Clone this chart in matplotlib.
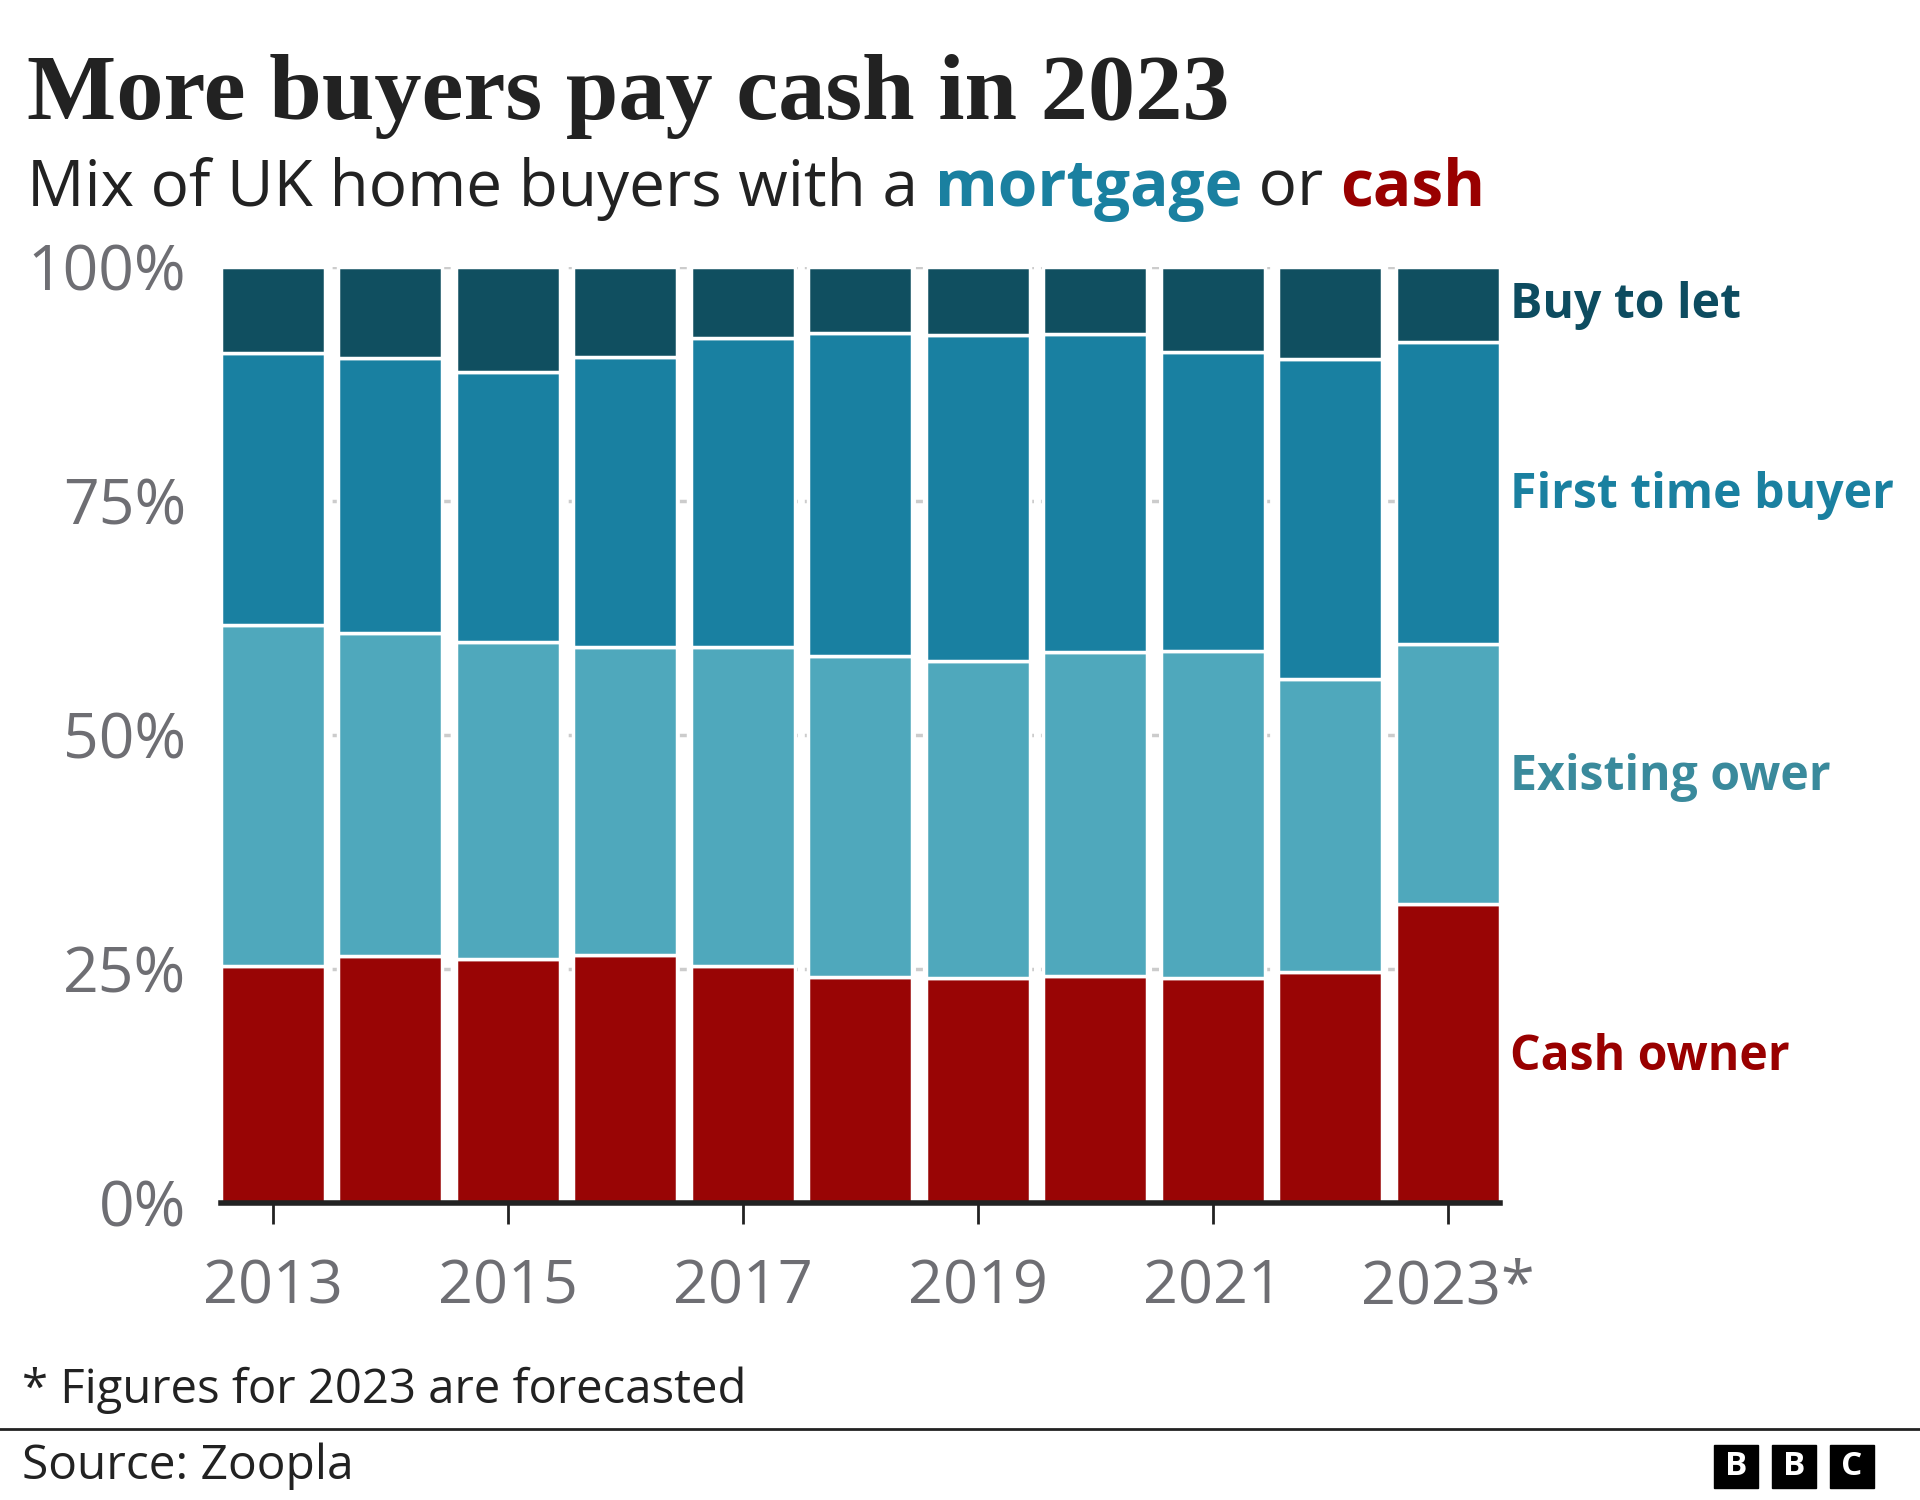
import matplotlib
matplotlib.use("Agg")
import matplotlib.pyplot as plt
from matplotlib.patches import Rectangle

# data (percent of buyers)
years = [2013, 2014, 2015, 2016, 2017, 2018, 2019, 2020, 2021, 2022, 2023]
cash_owner = [25.3, 26.4, 26.1, 26.5, 25.3, 24.1, 24.0, 24.3, 24.0, 24.7, 31.9]
existing_owner = [36.5, 34.5, 33.8, 32.9, 34.1, 34.3, 33.9, 34.6, 35.0, 31.3, 27.8]
first_time_buyer = [29.0, 29.4, 28.9, 31.0, 33.0, 34.5, 34.8, 33.9, 31.9, 34.2, 32.3]
buy_to_let = [9.2, 9.7, 11.2, 9.6, 7.6, 7.1, 7.3, 7.2, 9.1, 9.8, 8.0]
tick_years = [2013, 2015, 2017, 2019, 2021, 2023]
tick_labels = ["2013", "2015", "2017", "2019", "2021", "2023*"]

# colours
c_cash = "#990505"
c_exist = "#4fa8bc"
c_ftb = "#1980a1"
c_btl = "#104f60"
grey = "#6e6e73"

plt.rcParams["font.family"] = ["Open Sans", "DejaVu Sans"]

fig = plt.figure(figsize=(19.2, 15), dpi=100)
ax = fig.add_axes([0.1151, 0.198, 0.6661, 0.624])

w = 0.885
series = [(cash_owner, c_cash), (existing_owner, c_exist),
          (first_time_buyer, c_ftb), (buy_to_let, c_btl)]
bottom = [0.0] * len(years)
for vals, col in series:
    ax.bar(years, vals, width=w, bottom=bottom, color=col,
           edgecolor="white", linewidth=2.5, zorder=3)
    bottom = [b + v for b, v in zip(bottom, vals)]

ax.set_xlim(years[0] - w / 2, years[-1] + w / 2)
ax.set_ylim(0, 100)
ax.set_yticks([0, 25, 50, 75, 100])
ax.set_yticklabels(["0%", "25%", "50%", "75%", "100%"])
ax.set_xticks(tick_years)
ax.set_xticklabels(tick_labels)
ax.yaxis.grid(True, color="#cccccc", linewidth=2.5, linestyle=(0, (2, 2)), zorder=0)
for s in ["top", "right", "left"]:
    ax.spines[s].set_visible(False)
ax.spines["bottom"].set_linewidth(4)
ax.spines["bottom"].set_color("#222222")
ax.spines["bottom"].set_zorder(4)
ax.tick_params(axis="y", length=0, pad=25, labelsize=45, labelcolor=grey)
ax.tick_params(axis="x", length=15, width=2, color="#222222", pad=24,
               labelsize=44, labelcolor=grey)

# labels on the right of the last bar
lab_x = 1510 / 1920
for txt, ypx, col in [("Buy to let", 306, "#0d4c60"),
                      ("First time buyer", 496, "#1a80a0"),
                      ("Existing ower", 777, "#3a8a9c"),
                      ("Cash owner", 1057, "#990000")]:
    fig.text(lab_x, 1 - ypx / 1500, txt, color=col, fontsize=34.7,
             fontweight="bold", va="center", ha="left")

# title and subtitle
fig.text(27 / 1920, 1 - 119 / 1500, "More buyers pay cash in 2023",
         family=["Liberation Serif", "DejaVu Serif"], fontweight="bold",
         fontsize=68, color="#222222", va="baseline")

renderer = fig.canvas.get_renderer()
x = 27
parts = [("Mix of UK home buyers with a ", "#222222", "normal"),
         ("mortgage", "#1a80a0", "bold"),
         (" or ", "#222222", "normal"),
         ("cash", "#990000", "bold")]
for txt, col, wt in parts:
    t = fig.text(x / 1920, 1 - 206 / 1500, txt, fontsize=46, color=col,
                 fontweight=wt, va="baseline")
    x = t.get_window_extent(renderer).x1

# footnote, rule, source
fig.text(22 / 1920, 1 - 1390 / 1500, "* Figures for 2023 are forecasted",
         fontsize=34, color="#222222", va="center")
fig.add_artist(plt.Line2D([0, 1], [1 - 1429 / 1500] * 2, color="#222222",
                          linewidth=2, transform=fig.transFigure))
fig.text(22 / 1920, 1 - 1466 / 1500, "Source: Zoopla",
         fontsize=34.5, color="#222222", va="center")

# BBC blocks
for i, letter in enumerate("BBC"):
    x0 = 1714 + i * 58
    fig.add_artist(Rectangle((x0 / 1920, 1 - 1488 / 1500), 44 / 1920, 43 / 1500,
                             transform=fig.transFigure, color="black"))
    fig.text((x0 + 22) / 1920, 1 - 1466.5 / 1500, letter, color="white",
             fontsize=24, fontweight="bold", ha="center", va="center")

fig.savefig("out.png", dpi=100, facecolor="white")
